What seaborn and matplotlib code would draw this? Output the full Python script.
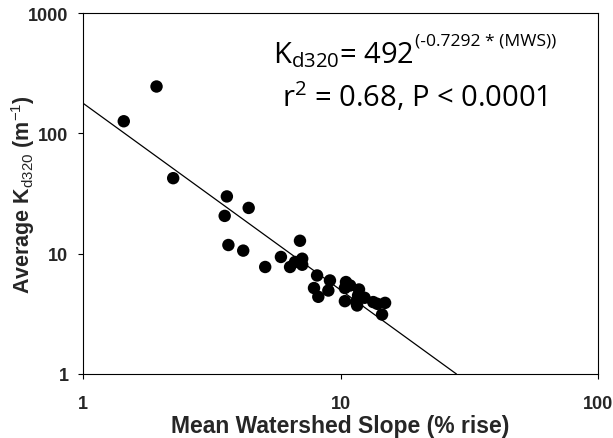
import numpy as np
import pandas as pd
import matplotlib
matplotlib.use('Agg')
import matplotlib.pyplot as plt
import seaborn as sns

# ===================== 数据 =====================
mws = [1.44, 1.93, 2.24, 3.62, 4.40, 3.55, 3.67, 4.19, 5.10, 5.87,
       6.96, 6.37, 6.66, 7.10, 7.10, 8.11, 9.10, 7.89, 8.20, 8.97,
       10.5, 10.9, 10.4, 11.8, 11.7, 12.4, 10.4, 11.6, 13.4, 13.9,
       14.9, 14.5, 11.5]
kd320 = [126, 245, 42.4, 29.9, 24.0, 20.6, 11.8, 10.6, 7.75, 9.39,
         12.8, 7.75, 8.53, 9.08, 8.09, 6.59, 5.99, 5.18, 4.38, 4.94,
         5.81, 5.44, 5.18, 5.04, 4.49, 4.30, 4.03, 3.71, 3.96, 3.83,
         3.90, 3.12, 3.96]

# 回归线端点
fit_x = [1.0, 28.2]
fit_y = [178.0, 1.0]

x_ticks = [1, 10, 100]
y_ticks = [1, 10, 100, 1000]

df = pd.DataFrame({'MWS': mws, 'Kd320': kd320})

# ===================== 样式 =====================
sns.set_theme(style='white')
plt.rcParams['font.family'] = ['Liberation Sans', 'DejaVu Sans']
plt.rcParams['mathtext.fontset'] = 'custom'
plt.rcParams['mathtext.rm'] = 'Open Sans'
plt.rcParams['mathtext.sf'] = 'Liberation Sans'
plt.rcParams['mathtext.bf'] = 'Liberation Sans:bold'

fig = plt.figure(figsize=(6.13, 4.39), dpi=100)
ax = fig.add_axes([83 / 613, 1 - 375 / 439, (598 - 83) / 613, (375 - 14) / 439])

sns.scatterplot(data=df, x='MWS', y='Kd320', ax=ax, color='black',
                s=80, edgecolor='none', linewidth=0, zorder=3)
sns.lineplot(x=fit_x, y=fit_y, ax=ax, color='black', linewidth=0.9, zorder=2)

ax.set_xscale('log')
ax.set_yscale('log')
ax.set_xlim(1, 100)
ax.set_ylim(1, 1000)
ax.set_xticks(x_ticks)
ax.set_xticklabels([str(t) for t in x_ticks])
ax.set_yticks(y_ticks)
ax.set_yticklabels([str(t) for t in y_ticks])
ax.minorticks_off()

for s in ax.spines.values():
    s.set_color('black')
    s.set_linewidth(0.8)

ax.tick_params(axis='both', which='major', direction='out', length=3.5,
               width=0.8, color='black', labelsize=13, pad=7,
               left=True, bottom=True, top=False, right=False)
for lab in ax.get_xticklabels() + ax.get_yticklabels():
    lab.set_fontweight('bold')
ax.tick_params(axis='x', pad=11.5)

ax.set_xlabel('Mean Watershed Slope (% rise)', fontsize=16.5, fontweight='bold')
ax.set_ylabel(r'Average K$_{\mathsf{d320}}$ (m$^{\mathsf{-1}}$)', fontsize=15.5,
              fontweight='bold')
ax.xaxis.set_label_coords(0.5, -0.112)
ax.yaxis.set_label_coords(-0.09, 0.5)

# 回归方程注释
ann_font = ['Open Sans', 'DejaVu Sans']
t1 = ax.text(273 / 613, 1 - 63 / 439, r'K$_{\mathrm{d320}}$= 492',
             transform=fig.transFigure, fontsize=21, family=ann_font,
             ha='left', va='baseline', color='black')
ax.annotate('(-0.7292 * (MWS))', xy=(1.0, 1 - 46 / 439),
            xycoords=(t1, 'figure fraction'),
            xytext=(1, 0), textcoords='offset points',
            fontsize=12.6, family=ann_font,
            ha='left', va='baseline', color='black')
ax.text(282 / 613, 1 - 107 / 439,
        r'r$^{\mathrm{2}}$ = 0.68, P < 0.0001',
        transform=fig.transFigure, fontsize=21, family=ann_font,
        ha='left', va='baseline', color='black')

fig.savefig('out.png', dpi=100)
plt.close(fig)
